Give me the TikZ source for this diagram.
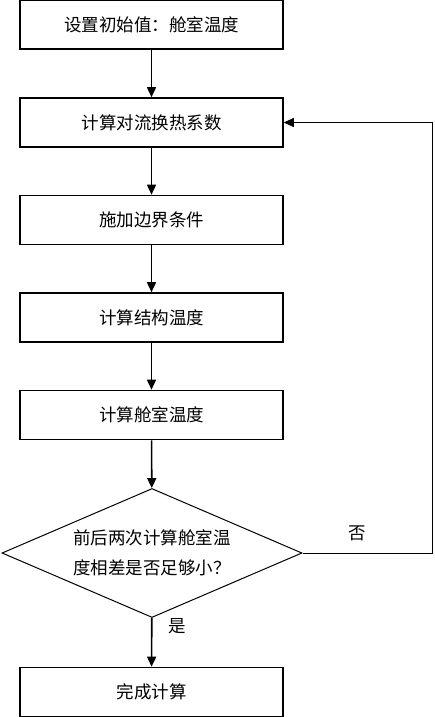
\documentclass[tikz,border=0pt]{standalone}
\usepackage{fontspec}
\newfontfamily\cjk{Noto Sans CJK SC}
\usetikzlibrary{arrows.meta,shapes.geometric}

\begin{document}
\begin{tikzpicture}[x=1pt,y=-1pt,
  font=\cjk\fontsize{17.5}{30}\selectfont,
  stepbox/.style={draw,line width=1.6pt,minimum width=263pt,minimum height=49pt,inner sep=0pt},
  decbox/.style={draw,line width=1pt,diamond,aspect=2.33,minimum width=300pt,minimum height=129pt,inner sep=0pt,align=center},
  flow/.style={line width=1.6pt,-{Triangle[length=10pt,width=9pt]}},
  back/.style={line width=1pt,-{Triangle[length=10pt,width=9pt]}}]
  \useasboundingbox (0,0) rectangle (434,717);
  \node[stepbox] (init) at (151.5,24.5) {设置初始值：舱室温度};
  \node[stepbox] (conv) at (151.5,122.5) {计算对流换热系数};
  \node[stepbox] (bc) at (151.5,220) {施加边界条件};
  \node[stepbox] (struct) at (151.5,317.5) {计算结构温度};
  \node[stepbox] (cabin) at (151.5,415) {计算舱室温度};
  \node[decbox] (check) at (152,553) {前后两次计算舱室温\\度相差是否足够小？};
  \node[stepbox] (done) at (151.5,692) {完成计算};
  \coordinate (loop) at (432.5,553);
  \draw[flow] (init) -- (conv);
  \draw[flow] (conv) -- (bc);
  \draw[flow] (bc) -- (struct);
  \draw[flow] (struct) -- (cabin);
  \draw[flow] (cabin) -- (check);
  \draw[flow] (check) -- (done);
  \draw[back] (check.east) -- (loop) |- (conv.east);
  \node (no) at (357,533) {否};
  \node (yes) at (177,626) {是};
\end{tikzpicture}
\end{document}
